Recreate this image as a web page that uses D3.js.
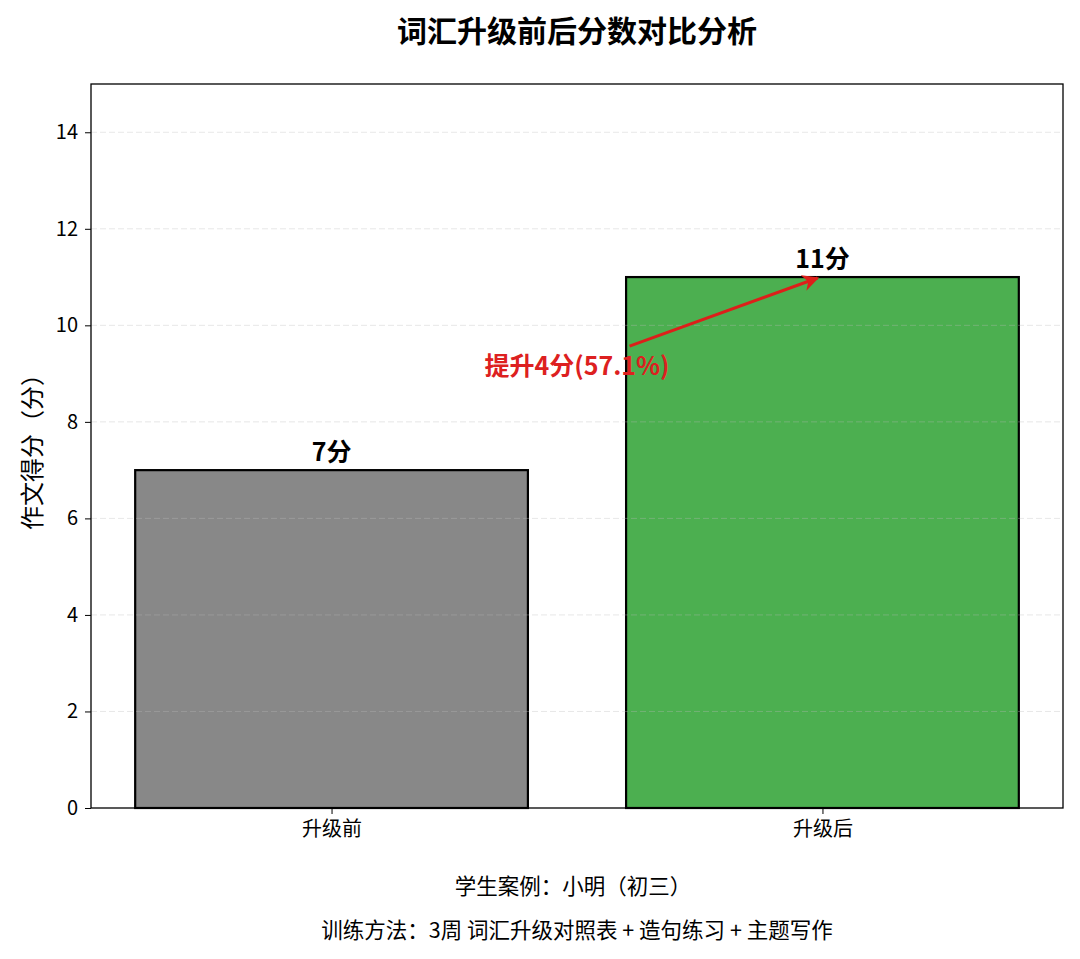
<!DOCTYPE html>
<html>
<head>
<meta charset="utf-8">
<script src="https://cdn.jsdelivr.net/npm/d3@7"></script>
<style>
  body { margin: 0; background: #fff; }
  text { font-family: "Noto Sans CJK SC", "Noto Sans", sans-serif; }
</style>
</head>
<body>
<svg width="1080" height="959"></svg>
<script>
// chart data
const categories = ['升级前', '升级后'];
const scores = [7, 11];
const barColors = ['#888888', '#4caf50'];
const yTicks = [0, 2, 4, 6, 8, 10, 12, 14];
const improveLabel = '提升4分(57.1%)';

const svg = d3.select('svg');
const margin = { left: 91, right: 1063, top: 84, bottom: 808 };

const x = d3.scaleLinear().domain([-0.49, 1.49]).range([margin.left, margin.right]);
const y = d3.scaleLinear().domain([0, 15]).range([margin.bottom, margin.top]);
const barW = x(0.4) - x(-0.4);

// title
svg.append('text')
  .attr('x', 577).attr('y', 42)
  .attr('text-anchor', 'middle')
  .style('font-size', '30px').style('font-weight', 'bold')
  .text('词汇升级前后分数对比分析');

// bars
svg.selectAll('.bar')
  .data(scores)
  .enter()
  .append('rect')
  .attr('class', 'bar')
  .attr('x', (d, i) => x(i) - barW / 2)
  .attr('y', d => y(d))
  .attr('width', barW)
  .attr('height', d => y(0) - y(d))
  .attr('fill', (d, i) => barColors[i])
  .attr('stroke', '#000')
  .attr('stroke-width', 2.2);

// dashed grid (drawn faintly over the bars)
svg.selectAll('.grid')
  .data(yTicks.filter(t => t > 0))
  .enter()
  .append('line')
  .attr('x1', margin.left).attr('x2', margin.right)
  .attr('y1', d => y(d)).attr('y2', d => y(d))
  .attr('stroke', '#bbbbbb')
  .attr('stroke-opacity', 0.35)
  .attr('stroke-dasharray', '6,3')
  .attr('stroke-width', 1);

// value labels
svg.selectAll('.val')
  .data(scores)
  .enter()
  .append('text')
  .attr('x', (d, i) => x(i))
  .attr('y', d => y(d) - 9)
  .attr('text-anchor', 'middle')
  .style('font-size', '25px').style('font-weight', 'bold')
  .text(d => d + '分');

// axes
const yAxis = svg.append('g')
  .attr('transform', `translate(${margin.left},0)`)
  .call(d3.axisLeft(y).tickValues(yTicks).tickSize(6).tickPadding(7));
yAxis.selectAll('text').style('font-size', '20px').attr('fill', '#000');

const xAxis = svg.append('g')
  .attr('transform', `translate(0,${margin.bottom})`)
  .call(d3.axisBottom(x).tickValues([0, 1]).tickFormat((d, i) => categories[i]).tickSize(6).tickPadding(8));
xAxis.selectAll('text').style('font-size', '20px').attr('fill', '#000');
svg.selectAll('.domain').remove();

// frame
svg.append('rect')
  .attr('x', margin.left).attr('y', margin.top)
  .attr('width', margin.right - margin.left)
  .attr('height', margin.bottom - margin.top)
  .attr('fill', 'none').attr('stroke', '#000').attr('stroke-width', 1.3);

// y label
svg.append('text')
  .attr('transform', `translate(41,${(margin.top + margin.bottom) / 2}) rotate(-90)`)
  .attr('text-anchor', 'middle')
  .style('font-size', '24px')
  .text('作文得分（分）');

// annotation arrow
svg.append('defs').append('marker')
  .attr('id', 'head')
  .attr('viewBox', '0 0 10 10')
  .attr('refX', 9).attr('refY', 5)
  .attr('markerWidth', 5.5).attr('markerHeight', 5.5)
  .attr('orient', 'auto')
  .append('path')
  .attr('d', 'M0,0 L10,5 L0,10 L3,5 Z')
  .attr('fill', '#dd1f1a');

svg.append('line')
  .attr('x1', x(0.607)).attr('y1', y(9.57))
  .attr('x2', x(0.99)).attr('y2', y(10.98))
  .attr('stroke', '#dd1f1a')
  .attr('stroke-width', 3)
  .attr('marker-end', 'url(#head)');

svg.append('text')
  .attr('x', x(0.5)).attr('y', y(9) + 1)
  .attr('text-anchor', 'middle')
  .style('font-size', '25px').style('font-weight', 'bold')
  .attr('fill', '#dd2020')
  .text(improveLabel);

// footer notes
svg.append('text')
  .attr('x', 573).attr('y', 894)
  .attr('text-anchor', 'middle')
  .style('font-size', '21.5px')
  .text('学生案例：小明（初三）');

svg.append('text')
  .attr('x', 577).attr('y', 938)
  .attr('text-anchor', 'middle')
  .style('font-size', '21.5px')
  .text('训练方法：3周 词汇升级对照表 + 造句练习 + 主题写作');
</script>
</body>
</html>
